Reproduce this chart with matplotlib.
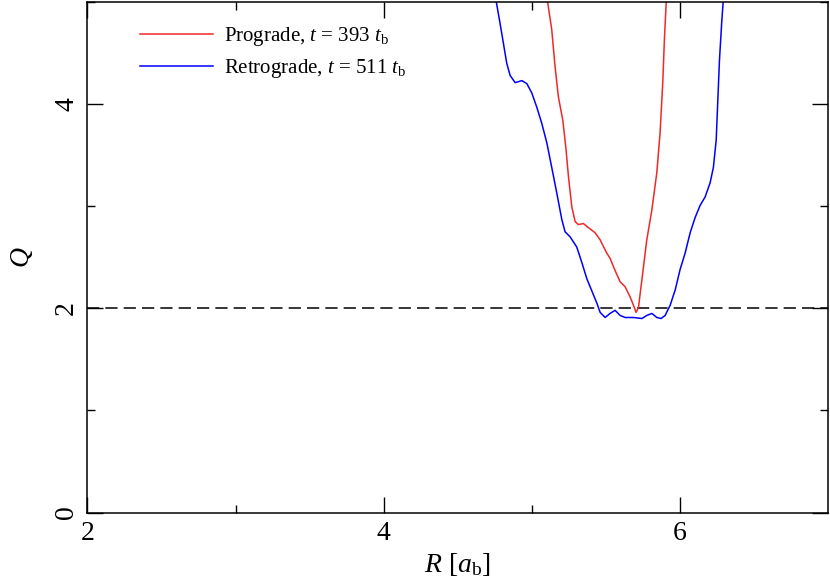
import matplotlib
matplotlib.use("Agg")
import matplotlib.pyplot as plt

plt.rcParams["font.family"] = ["Liberation Serif", "DejaVu Serif"]
plt.rcParams["mathtext.fontset"] = "custom"
plt.rcParams["mathtext.rm"] = "Liberation Serif"
plt.rcParams["mathtext.it"] = "Liberation Serif:italic"

# prograde, t = 393 t_b
pro_r = [5.100, 5.136, 5.159, 5.181, 5.211, 5.231, 5.249, 5.272, 5.294, 5.316,
         5.350, 5.384, 5.429, 5.463, 5.508, 5.530, 5.564, 5.598, 5.632, 5.666,
         5.688, 5.706, 5.722, 5.745, 5.778, 5.812, 5.846, 5.868, 5.886, 5.897,
         5.912]
pro_q = [5.08, 4.73, 4.36, 4.07, 3.84, 3.58, 3.29, 2.99, 2.85, 2.82,
         2.83, 2.79, 2.74, 2.67, 2.54, 2.49, 2.37, 2.26, 2.21, 2.11,
         2.03, 1.96, 2.01, 2.28, 2.67, 2.96, 3.33, 3.72, 4.21, 4.63,
         5.08]

# retrograde, t = 511 t_b
ret_r = [4.752, 4.787, 4.809, 4.832, 4.855, 4.889, 4.934, 4.968, 5.001, 5.035,
         5.069, 5.103, 5.136, 5.170, 5.204, 5.226, 5.260, 5.305, 5.339, 5.373,
         5.407, 5.441, 5.463, 5.497, 5.530, 5.564, 5.598, 5.632, 5.688, 5.745,
         5.778, 5.812, 5.846, 5.875, 5.902, 5.936, 5.970, 6.003, 6.037, 6.071,
         6.105, 6.139, 6.172, 6.206, 6.228, 6.247, 6.258, 6.269, 6.285, 6.298]
ret_q = [5.08, 4.79, 4.60, 4.40, 4.28, 4.21, 4.23, 4.20, 4.11, 3.97,
         3.81, 3.62, 3.38, 3.13, 2.87, 2.75, 2.70, 2.60, 2.45, 2.29,
         2.17, 2.05, 1.96, 1.91, 1.95, 1.98, 1.93, 1.91, 1.91, 1.90,
         1.93, 1.95, 1.91, 1.90, 1.93, 2.03, 2.18, 2.38, 2.54, 2.74,
         2.89, 3.01, 3.09, 3.23, 3.38, 3.65, 4.04, 4.43, 4.82, 5.08]

q_crit = 2.0


def main() -> None:
    fig = plt.figure(figsize=(8.3, 5.86), dpi=100)
    ax = fig.add_axes([0.1054, 0.1254, 0.8918, 0.8712])

    ax.axhline(q_crit, color="black", linestyle=(0, (8, 4)), linewidth=1.1)
    ax.plot(pro_r, pro_q, color="#f02828", linewidth=1.1,
            label=r"Prograde, $t$ = 393 $t_\mathrm{b}$")
    ax.plot(ret_r, ret_q, color="#0000ff", linewidth=1.1,
            label=r"Retrograde, $t$ = 511 $t_\mathrm{b}$")

    ax.set_xlim(2, 7)
    ax.set_ylim(0, 5)
    ax.set_xticks([2, 4, 6])
    ax.set_xticks([3, 5], minor=True)
    ax.set_yticks([0, 2, 4])
    ax.set_yticks([1, 3, 5], minor=True)
    ax.tick_params(which="both", direction="in", top=True, right=True,
                   width=1.0, labelsize=20)
    ax.tick_params(which="major", length=11.5, pad=6)
    ax.tick_params(which="minor", length=5.8)
    for lab in ax.get_yticklabels():
        lab.set_rotation(90)
        lab.set_va("center")
    for sp in ax.spines.values():
        sp.set_linewidth(1.1)

    ax.set_xlabel(r"$R$ [$a_\mathrm{b}$]", fontsize=20, labelpad=4)
    ax.set_ylabel(r"$Q$", fontsize=20, labelpad=14)

    ax.legend(loc="upper left", bbox_to_anchor=(0.071, 0.955), frameon=False,
              fontsize=15, handlelength=3.5, handletextpad=0.55,
              labelspacing=0.45, borderpad=0, borderaxespad=0)

    fig.savefig("out.png", dpi=100)
    plt.close(fig)


if __name__ == "__main__":
    main()
